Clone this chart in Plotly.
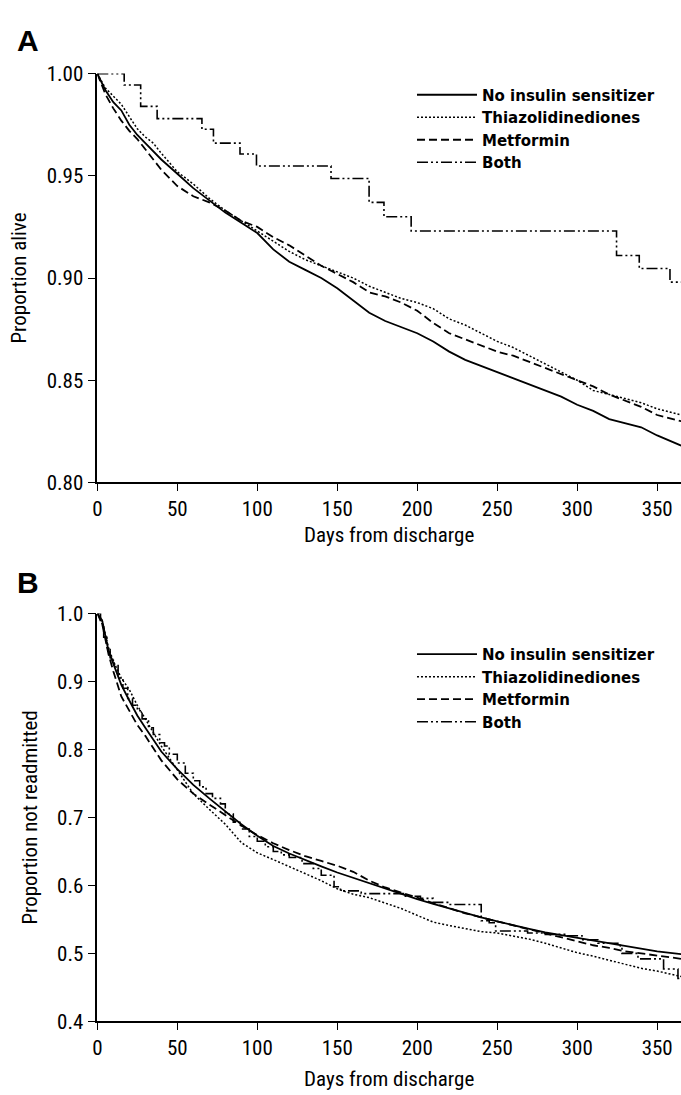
import plotly.graph_objects as go

# ---------------- Panel A : survival ----------------
days_a = [0, 5, 10, 15, 20, 25, 30, 35, 40, 50, 60, 70, 80, 90, 100, 110, 120, 130, 140, 150,
          160, 170, 180, 190, 200, 210, 220, 230, 240, 250, 260, 270, 280, 290, 300, 310, 320,
          330, 340, 350, 365]
none_a = [1.000, 0.992, 0.986, 0.982, 0.975, 0.970, 0.966, 0.962, 0.958, 0.951, 0.944, 0.938,
          0.932, 0.927, 0.922, 0.914, 0.908, 0.904, 0.900, 0.895, 0.889, 0.883, 0.879, 0.876,
          0.873, 0.869, 0.864, 0.860, 0.857, 0.854, 0.851, 0.848, 0.845, 0.842, 0.838, 0.835,
          0.831, 0.829, 0.827, 0.823, 0.818]
tzd_a = [1.000, 0.993, 0.989, 0.985, 0.979, 0.973, 0.969, 0.966, 0.961, 0.952, 0.946, 0.939,
         0.933, 0.928, 0.923, 0.918, 0.913, 0.909, 0.906, 0.903, 0.900, 0.896, 0.893, 0.890,
         0.888, 0.885, 0.880, 0.877, 0.873, 0.869, 0.866, 0.862, 0.858, 0.854, 0.850, 0.845,
         0.843, 0.841, 0.839, 0.836, 0.833]
met_a = [1.000, 0.990, 0.983, 0.977, 0.972, 0.968, 0.963, 0.958, 0.953, 0.945, 0.940, 0.937,
         0.933, 0.928, 0.925, 0.920, 0.916, 0.911, 0.906, 0.902, 0.898, 0.893, 0.891, 0.888,
         0.884, 0.878, 0.873, 0.870, 0.867, 0.864, 0.862, 0.859, 0.856, 0.853, 0.850, 0.847,
         0.843, 0.840, 0.837, 0.833, 0.830]
both_a_days = [0, 16.8, 27.1, 37.4, 65.4, 72.6, 89.2, 99.5, 146.1, 169.9, 179.2, 196.2, 324.6,
               338.8, 358.0, 365]
both_a_vals = [1.000, 0.9944, 0.984, 0.978, 0.9728, 0.966, 0.9607, 0.9548, 0.9487, 0.937, 0.930,
               0.923, 0.911, 0.9047, 0.898, 0.898]

# ---------------- Panel B : readmission ----------------
days_b = [0, 3, 7, 10, 15, 20, 25, 30, 40, 50, 60, 70, 80, 90, 100, 110, 120, 130, 140, 150,
          160, 170, 180, 190, 200, 210, 220, 230, 240, 250, 260, 270, 280, 290, 300, 310, 320,
          330, 340, 350, 365]
none_b = [1.0, 0.99, 0.945, 0.925, 0.895, 0.872, 0.85, 0.832, 0.797, 0.771, 0.748, 0.728, 0.709,
          0.69, 0.673, 0.658, 0.647, 0.637, 0.628, 0.619, 0.611, 0.603, 0.595, 0.588, 0.580,
          0.573, 0.566, 0.559, 0.553, 0.547, 0.541, 0.536, 0.531, 0.527, 0.523, 0.519, 0.515,
          0.511, 0.507, 0.503, 0.499]
tzd_b = [1.0, 0.99, 0.95, 0.93, 0.905, 0.888, 0.865, 0.845, 0.805, 0.77, 0.735, 0.712, 0.69,
         0.663, 0.648, 0.638, 0.628, 0.618, 0.607, 0.595, 0.587, 0.582, 0.574, 0.566, 0.556,
         0.546, 0.541, 0.537, 0.532, 0.530, 0.526, 0.521, 0.515, 0.508, 0.501, 0.496, 0.490,
         0.484, 0.478, 0.474, 0.466]
met_b = [1.0, 0.985, 0.94, 0.915, 0.878, 0.857, 0.836, 0.82, 0.784, 0.756, 0.735, 0.719, 0.703,
         0.688, 0.674, 0.662, 0.652, 0.643, 0.636, 0.629, 0.620, 0.607, 0.597, 0.590, 0.582,
         0.574, 0.566, 0.559, 0.553, 0.547, 0.541, 0.535, 0.529, 0.524, 0.518, 0.512, 0.508,
         0.503, 0.500, 0.497, 0.492]
both_b_days = [0, 2, 4, 6, 8, 10, 13, 16, 19, 22, 25, 28, 32, 35, 39, 42, 45, 50, 55, 60, 64, 68,
               72, 77, 80, 85, 90, 95, 100, 105, 110, 115, 120, 128, 135, 140, 148, 152, 165,
               192, 202, 210, 219, 240, 245, 249, 269, 278, 293, 303, 313, 327, 328, 338, 354,
               363, 365]
both_b_vals = [1.0, 0.985, 0.965, 0.95, 0.935, 0.925, 0.905, 0.89, 0.875, 0.865, 0.857, 0.845,
               0.832, 0.822, 0.81, 0.805, 0.793, 0.78, 0.765, 0.754, 0.745, 0.735, 0.728, 0.72,
               0.705, 0.693, 0.683, 0.672, 0.665, 0.657, 0.650, 0.645, 0.641, 0.632, 0.625,
               0.615, 0.598, 0.592, 0.588, 0.584, 0.581, 0.575, 0.572, 0.548, 0.545, 0.533,
               0.530, 0.528, 0.526, 0.52, 0.515, 0.511, 0.50, 0.492, 0.477, 0.463, 0.463]

names = ["No insulin sensitizer", "Thiazolidinediones", "Metformin", "Both"]
dashes = ["solid", "2px,2px", "8px,4px", "11px,3px,2px,3px,2px,3px"]
widths = [1.8, 1.5, 1.8, 1.6]
x_ticks = [0, 50, 100, 150, 200, 250, 300, 350]

W, H = 681, 1095
FONT = "Liberation Sans Narrow, Roboto Condensed, Liberation Sans, Arial, sans-serif"
LEG_FONT = "DejaVu Sans, Liberation Sans, Arial, sans-serif"

fig = go.Figure()

series_a = [(days_a, none_a), (days_a, tzd_a), (days_a, met_a), (both_a_days, both_a_vals)]
series_b = [(days_b, none_b), (days_b, tzd_b), (days_b, met_b), (both_b_days, both_b_vals)]

for i, (xs, ys) in enumerate(series_a):
    fig.add_trace(go.Scatter(
        x=xs, y=ys, mode="lines", name=names[i], xaxis="x", yaxis="y",
        line=dict(color="black", width=widths[i], dash=dashes[i],
                  shape="hv" if i == 3 else "linear"),
        legend="legend"))
for i, (xs, ys) in enumerate(series_b):
    fig.add_trace(go.Scatter(
        x=xs, y=ys, mode="lines", name=names[i], xaxis="x2", yaxis="y2",
        line=dict(color="black", width=widths[i], dash=dashes[i],
                  shape="hv" if i == 3 else "linear"),
        legend="legend2"))

x_left = 93 / W
px_per_day = (657 - 93) / 350
x_max = (W - 93) / px_per_day

def ypaper(px):
    return (H - px) / H

axis_common = dict(showgrid=False, zeroline=False, showline=True, linecolor="black",
                   linewidth=1.5, ticks="outside", tickcolor="black", tickwidth=1.2,
                   tickfont=dict(family=FONT, size=21, color="black"))
title_font = dict(family=FONT, size=21, color="black")

fig.update_layout(
    width=W, height=H, margin=dict(l=0, r=0, t=0, b=0),
    paper_bgcolor="white", plot_bgcolor="white",
    xaxis=dict(domain=[x_left, 1], range=[0, x_max], anchor="y", tickvals=x_ticks,
               ticklen=7, title=dict(text="Days from discharge", font=title_font, standoff=7),
               **axis_common),
    yaxis=dict(domain=[ypaper(481), ypaper(63)], range=[0.80, 1.00], anchor="x",
               tickvals=[0.80, 0.85, 0.90, 0.95, 1.00],
               ticktext=["0.80", "0.85", "0.90", "0.95", "1.00"],
               ticklen=8, title=dict(text="Proportion alive", font=title_font, standoff=14),
               **axis_common),
    xaxis2=dict(domain=[x_left, 1], range=[0, x_max], anchor="y2", tickvals=x_ticks,
                ticklen=7, title=dict(text="Days from discharge", font=title_font, standoff=12),
                **axis_common),
    yaxis2=dict(domain=[ypaper(1032), ypaper(615)], range=[0.4, 1.0], anchor="x2",
                tickvals=[0.4, 0.5, 0.6, 0.7, 0.8, 0.9, 1.0],
                ticktext=["0.4", "0.5", "0.6", "0.7", "0.8", "0.9", "1.0"],
                ticklen=8, title=dict(text="Proportion not readmitted", font=title_font,
                                      standoff=14),
                **axis_common),
    legend=dict(x=410 / W, y=ypaper(68), xanchor="left", yanchor="top", itemwidth=60,
                font=dict(family=LEG_FONT, size=15, color="black", weight="bold"),
                bgcolor="rgba(0,0,0,0)", tracegroupgap=0),
    legend2=dict(x=410 / W, y=ypaper(640), xanchor="left", yanchor="top", itemwidth=60,
                 font=dict(family=LEG_FONT, size=15, color="black", weight="bold"),
                 bgcolor="rgba(0,0,0,0)", tracegroupgap=0),
    annotations=[
        dict(text="<b>A</b>", x=10 / W, y=ypaper(29), xref="paper", yref="paper",
             xanchor="left", yanchor="middle", showarrow=False,
             font=dict(family="Liberation Sans, Arial, sans-serif", size=30, color="black")),
        dict(text="<b>B</b>", x=10 / W, y=ypaper(583), xref="paper", yref="paper",
             xanchor="left", yanchor="middle", showarrow=False,
             font=dict(family="Liberation Sans, Arial, sans-serif", size=30, color="black")),
    ],
)

fig.write_html("out.html", config={"displayModeBar": False},
               post_script="document.body.style.margin='0';document.body.style.padding='0';")
